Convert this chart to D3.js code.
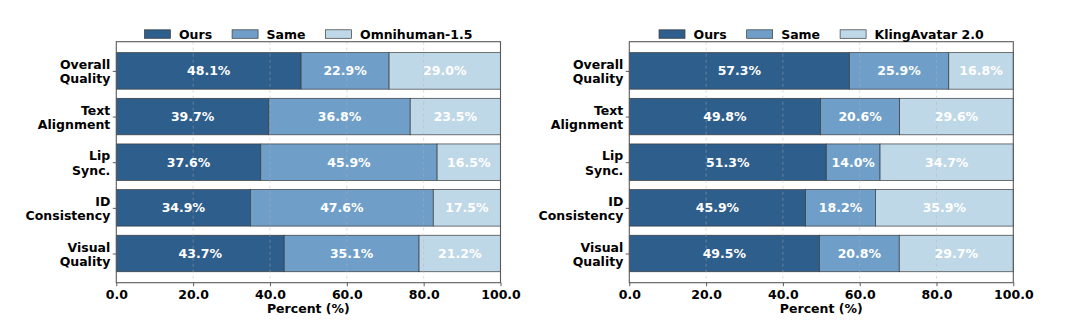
<!DOCTYPE html>
<html><head><meta charset="utf-8">
<script src="https://cdn.jsdelivr.net/npm/d3@7"></script>
<style>body{margin:0;background:#fff}svg{display:block}text{font-family:"DejaVu Sans",sans-serif;font-weight:bold}</style>
</head><body>
<svg id="c" width="1080" height="336"></svg>
<script>
const categories = ["Overall Quality","Text Alignment","Lip Sync.","ID Consistency","Visual Quality"];
const seriesNames = ["Ours","Same"];
const leftOpponent = "Omnihuman-1.5";
const rightOpponent = "KlingAvatar 2.0";
const leftOurs = [48.1,39.7,37.6,34.9,43.7];
const leftSame = [22.9,36.8,45.9,47.6,35.1];
const leftOther = [29.0,23.5,16.5,17.5,21.2];
const rightOurs = [57.3,49.8,51.3,45.9,49.5];
const rightSame = [25.9,20.6,14.0,18.2,20.8];
const rightOther = [16.8,29.6,34.7,35.9,29.7];
const xTicks = [0,20,40,60,80,100];
const xTickLabels = ["0.0","20.0","40.0","60.0","80.0","100.0"];
const xLabel = "Percent (%)";
const colors = ["#2e5e8c","#6f9fc9","#bfd8e7"];

const svg = d3.select("#c");
const FS = 12.5;

function panel(x0, x1, ours, same, other, oppName){
  const top = 41.7, bottom = 282.7;
  const g = svg.append("g");
  const x = d3.scaleLinear().domain([0,100]).range([x0,x1]);
  const y = d3.scaleLinear().domain([-0.64, 4.64]).range([top,bottom]);
  const rows = categories.map((c,i)=>{
    const vals=[ours[i],same[i],other[i]];
    let acc=0; return vals.map((v,k)=>{const s={cat:i,k,v,x0:acc,x1:acc+v};acc+=v;return s;});
  }).flat();
  const bh = y(0.4)-y(-0.4);
  g.selectAll("rect.bar").data(rows).join("rect").attr("class","bar")
    .attr("x",d=>x(d.x0)).attr("width",d=>x(d.x1)-x(d.x0))
    .attr("y",d=>y(d.cat)-bh/2).attr("height",bh)
    .attr("fill",d=>colors[d.k]).attr("stroke","#3a3a3a").attr("stroke-width",0.7);
  // grid on top
  g.selectAll("line.grid").data(xTicks.slice(1,-1)).join("line").attr("class","grid")
    .attr("x1",d=>x(d)).attr("x2",d=>x(d)).attr("y1",top).attr("y2",bottom)
    .attr("stroke","#b0b0b0").attr("stroke-opacity",0.55).attr("stroke-width",0.8).attr("stroke-dasharray","3,3");
  g.selectAll("text.val").data(rows).join("text").attr("class","val")
    .attr("x",d=>x((d.x0+d.x1)/2)).attr("y",d=>y(d.cat)).attr("dy","0.36em")
    .attr("text-anchor","middle").attr("fill","#fff").attr("font-size",FS)
    .text(d=>d.v.toFixed(1)+"%");
  // frame
  g.append("rect").attr("x",x0).attr("y",top).attr("width",x1-x0).attr("height",bottom-top)
    .attr("fill","none").attr("stroke","#5a5a5a").attr("stroke-width",1.1);
  // x axis
  const xa = g.append("g").attr("transform",`translate(0,${bottom})`)
    .call(d3.axisBottom(x).tickValues(xTicks).tickFormat((d,i)=>xTickLabels[i]).tickSize(3.5).tickPadding(3.5));
  xa.select(".domain").remove();
  xa.selectAll("line").attr("stroke","#5a5a5a");
  xa.selectAll("text").attr("font-size",FS).attr("fill","#000").attr("font-family","DejaVu Sans").attr("font-weight","bold");
  g.append("text").attr("x",(x0+x1)/2).attr("y",313).attr("text-anchor","middle").attr("font-size",FS).text(xLabel);
  // y axis
  const ya = g.append("g").attr("transform",`translate(${x0},0)`)
    .call(d3.axisLeft(y).tickValues(d3.range(categories.length)).tickFormat("").tickSize(3.5));
  ya.select(".domain").remove();
  ya.selectAll("line").attr("stroke","#5a5a5a");
  categories.forEach((c,i)=>{
    const parts = c.split(" ");
    const t = g.append("text").attr("text-anchor","end").attr("font-size",FS).attr("fill","#000");
    parts.forEach((p,j)=>{
      t.append("tspan").attr("x",x0-6).attr("y",y(i)+0.8+(j-(parts.length-1)/2)*14.5).attr("dy","0.36em").text(p);
    });
  });
  // legend
  const names=[...seriesNames, oppName];
  const lg = g.append("g");
  let cx=0; const items=[];
  names.forEach((n,k)=>{
    const it = lg.append("g");
    it.append("rect").attr("x",0).attr("y",29.8).attr("width",26).attr("height",8.5)
      .attr("fill",colors[k]).attr("stroke","#3a3a3a").attr("stroke-width",0.7);
    const tx = it.append("text").attr("x",34.5).attr("y",34).attr("dy","0.36em").attr("font-size",FS).text(n);
    items.push({it,w:34.5+tx.node().getComputedTextLength()});
  });
  items.forEach((d,k)=>{d.it.attr("transform",`translate(${cx},0)`); cx+=d.w+(k<items.length-1?20:0);});
  lg.attr("transform",`translate(${(x0+x1)/2-cx/2},0)`);
}
panel(116.3,500.5,leftOurs,leftSame,leftOther,leftOpponent);
panel(629.3,1013.3,rightOurs,rightSame,rightOther,rightOpponent);
</script>
</body></html>
